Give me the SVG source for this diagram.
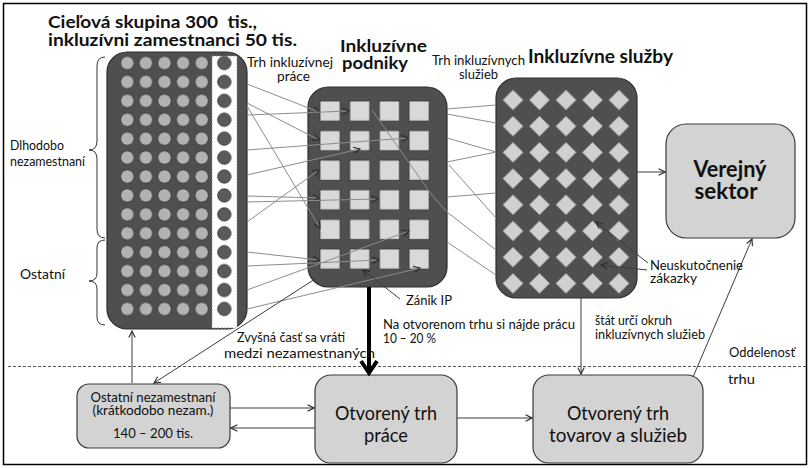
<svg xmlns="http://www.w3.org/2000/svg" width="810" height="468" viewBox="0 0 810 468">
<style>
  text { font-family: Lato, "Open Sans", "Liberation Sans", sans-serif; fill: #111; }
  .b { font-weight: bold; }
  .s { font-size: 12.5px; }
  .big { font-size: 19px; }
  .blk { fill: #4f4f4f; stroke: #2e2e2e; stroke-width: 1.2; }
  .box { fill: #d3d3d3; stroke: #3a3a3a; stroke-width: 1.2; }
  .g { stroke: #8c8c8c; stroke-width: 1; fill: none; }
  .ga { stroke: #8c8c8c; stroke-width: 1; fill: none; marker-end: url(#ah); }
  .c { stroke: #3c3c3c; stroke-width: 1; fill: none; marker-end: url(#ah); }
</style>
<defs>
  <marker id="ah" viewBox="0 0 10 10" refX="9" refY="5" markerWidth="8" markerHeight="8" orient="auto" markerUnits="userSpaceOnUse">
    <path d="M1,1 L9,5 L1,9" fill="none" stroke="#2a2a2a" stroke-width="1.4"/>
  </marker>
  <pattern id="pl" patternUnits="userSpaceOnUse" x="118" y="53.54" width="18.6" height="18.92">
    <circle cx="9.3" cy="9.46" r="6.7" fill="#b2b2b2" stroke="#2e2e2e" stroke-width="0.8"/>
  </pattern>
  <pattern id="pd" patternUnits="userSpaceOnUse" x="215" y="53.54" width="18.6" height="18.92">
    <circle cx="9.3" cy="9.46" r="6.7" fill="#5a5a5a" stroke="#2e2e2e" stroke-width="0.8"/>
  </pattern>
  <pattern id="ps" patternUnits="userSpaceOnUse" x="319" y="100" width="29.7" height="29.6">
    <rect x="1" y="1" width="20" height="20" fill="#d9d9d9" stroke="#333" stroke-width="0.8"/>
  </pattern>
  <pattern id="pdm" patternUnits="userSpaceOnUse" x="499.75" y="86.9" width="26.5" height="26.2">
    <path d="M13.25,2.6 L23.75,13.1 L13.25,23.6 L2.75,13.1 Z" fill="#d0d0d0" stroke="#3a3a3a" stroke-width="0.6"/>
  </pattern>
</defs>

<rect x="3.5" y="3.5" width="803" height="461" fill="#fff" stroke="#000" stroke-width="1.5"/>

<!-- dashed separation line -->
<line x1="8" y1="366.5" x2="806" y2="366.5" stroke="#555" stroke-width="1" stroke-dasharray="3,2"/>

<!-- title -->
<g id="title">
  <text class="b" font-size="17.5"><tspan x="48" y="28" textLength="209" lengthAdjust="spacingAndGlyphs">Cieľová skupina 300&#160; tis.,</tspan><tspan x="48" y="46" textLength="249" lengthAdjust="spacingAndGlyphs">inkluzívni zamestnanci 50 tis.</tspan></text>
</g>

<!-- left target group block -->
<g id="cielova-skupina">
  <rect class="blk" x="107" y="52" width="140" height="277" rx="20"/>
  <rect x="118" y="53.54" width="93" height="264.9" fill="url(#pl)"/>
  <rect x="212" y="56" width="25" height="272" fill="#fff" stroke="#888" stroke-width="0.8" stroke-dasharray="2,1.5"/>
  <rect x="215" y="53.54" width="18.6" height="264.9" fill="url(#pd)"/>
</g>

<!-- brackets -->
<g id="brackets" fill="none" stroke="#333" stroke-width="1">
  <path d="M105,57 Q97,57 97,66 L97,141 Q97,150 89,150 Q97,150 97,159 L97,229 Q97,238 105,238"/>
  <path d="M105,240 Q97,240 97,248 L97,273 Q97,281 89,281 Q97,281 97,289 L97,317 Q97,325 105,325"/>
</g>
<g id="lbl-dlhodobo">
  <text class="s"><tspan x="10" y="150" textLength="54" lengthAdjust="spacingAndGlyphs">Dlhodobo</tspan><tspan x="10" y="166" textLength="75" lengthAdjust="spacingAndGlyphs">nezamestnaní</tspan></text>
</g>
<g id="lbl-ostatni"><text class="s" x="20" y="279" textLength="45" lengthAdjust="spacingAndGlyphs">Ostatní</text></g>

<!-- middle block -->
<g id="inkluzivne-podniky">
  <rect class="blk" x="308" y="87" width="139" height="200" rx="20"/>
  <rect x="319" y="100" width="118.8" height="177.6" fill="url(#ps)"/>
  <text class="b" font-size="17.5"><tspan x="340" y="52" textLength="87" lengthAdjust="spacingAndGlyphs">Inkluzívne</tspan><tspan x="342" y="69" textLength="66" lengthAdjust="spacingAndGlyphs">podniky</tspan></text>
</g>

<!-- right block -->
<g id="inkluzivne-sluzby">
  <rect class="blk" x="496" y="78" width="141" height="220" rx="20"/>
  <rect x="499.75" y="86.9" width="132.5" height="209.6" fill="url(#pdm)"/>
  <text class="b" x="528" y="63" font-size="18" textLength="145" lengthAdjust="spacingAndGlyphs">Inkluzívne služby</text>
</g>

<!-- public sector -->
<g id="verejny-sektor">
  <rect class="box" x="666" y="124" width="129" height="114" rx="20"/>
  <text class="b" font-size="22" text-anchor="middle"><tspan x="730" y="177" textLength="73" lengthAdjust="spacingAndGlyphs">Verejný</tspan><tspan x="726" y="199" textLength="63" lengthAdjust="spacingAndGlyphs">sektor</tspan></text>
</g>

<!-- bottom boxes -->
<g id="ostatni-nezamestnani">
  <rect class="box" x="77" y="384" width="153" height="64" rx="12"/>
  <text class="s" text-anchor="middle"><tspan x="153" y="402" textLength="125" lengthAdjust="spacingAndGlyphs">Ostatní nezamestnaní</tspan><tspan x="153" y="415" textLength="121" lengthAdjust="spacingAndGlyphs">(krátkodobo nezam.)</tspan><tspan x="153" y="438" textLength="80" lengthAdjust="spacingAndGlyphs">140 – 200 tis.</tspan></text>
</g>
<g id="otvoreny-trh-prace">
  <rect class="box" x="315" y="375" width="142" height="88" rx="16"/>
  <text class="big" text-anchor="middle"><tspan x="386" y="420" textLength="102" lengthAdjust="spacingAndGlyphs">Otvorený trh</tspan><tspan x="386" y="442" textLength="44" lengthAdjust="spacingAndGlyphs">práce</tspan></text>
</g>
<g id="otvoreny-trh-tovarov">
  <rect class="box" x="533" y="375" width="170" height="88" rx="16"/>
  <text class="big" text-anchor="middle"><tspan x="618" y="420" textLength="102" lengthAdjust="spacingAndGlyphs">Otvorený trh</tspan><tspan x="618" y="442" textLength="138" lengthAdjust="spacingAndGlyphs">tovarov a služieb</tspan></text>
</g>

<!-- connectors -->
<g id="connectors">
  <!-- left to middle -->
  <line class="ga" x1="247" y1="84" x2="319" y2="112"/>
  <line class="ga" x1="247" y1="115" x2="349" y2="111"/>
  <line class="ga" x1="247" y1="103" x2="319" y2="140"/>
  <line class="ga" x1="247" y1="106" x2="320" y2="228"/>
  <line class="ga" x1="247" y1="150" x2="408" y2="138"/>
  <line class="ga" x1="247" y1="175" x2="360" y2="149"/>
  <line class="ga" x1="247" y1="222" x2="319" y2="170"/>
  <line class="ga" x1="247" y1="196" x2="319" y2="198"/>
  <line class="ga" x1="247" y1="202" x2="378" y2="199"/>
  <line class="ga" x1="247" y1="290" x2="409" y2="231"/>
  <line class="ga" x1="247" y1="252" x2="319" y2="260"/>
  <line class="ga" x1="247" y1="266" x2="379" y2="260"/>
  <line class="ga" x1="247" y1="309" x2="420" y2="268"/>
  <!-- middle to right -->
  <line class="g" x1="447" y1="109" x2="496" y2="105"/>
  <line class="g" x1="447" y1="114" x2="496" y2="123"/>
  <line class="g" x1="447" y1="138" x2="496" y2="152"/>
  <line class="g" x1="447" y1="162" x2="496" y2="152"/>
  <line class="g" x1="449" y1="165" x2="496" y2="218"/>
  <polyline class="g" points="372,110 431,194 447,212 496,250"/>
  <line class="g" x1="447" y1="197" x2="496" y2="193"/>
  <line class="g" x1="447" y1="242" x2="496" y2="275"/>
  <!-- others -->
  <line class="c" x1="315" y1="279" x2="154" y2="383"/>
  <line class="c" x1="132" y1="383" x2="132" y2="331"/>
  <line class="c" x1="230" y1="408" x2="314" y2="408"/>
  <line class="c" x1="315" y1="428" x2="231" y2="428"/>
  <line class="c" x1="457" y1="418" x2="532" y2="418"/>
  <line class="c" x1="581" y1="298" x2="581" y2="374"/>
  <line class="c" x1="693" y1="377" x2="752" y2="239"/>
  <line class="c" x1="637" y1="172" x2="665" y2="172"/>
  <line class="c" x1="400" y1="299" x2="363" y2="270"/>
  <line class="c" x1="648" y1="263" x2="596" y2="222"/>
  <line class="c" x1="647" y1="270" x2="601" y2="265"/>
  <line x1="369" y1="287" x2="369" y2="372" stroke="#000" stroke-width="4"/>
  <polyline points="361,361 369,373 377,361" fill="none" stroke="#000" stroke-width="4" stroke-linejoin="miter"/>
</g>

<!-- labels -->
<g id="labels">
  <text class="s"><tspan x="247" y="67" textLength="86" lengthAdjust="spacingAndGlyphs">Trh inkluzívnej</tspan><tspan x="277" y="81" textLength="33" lengthAdjust="spacingAndGlyphs">práce</tspan></text>
  <text class="s"><tspan x="432" y="65" textLength="93" lengthAdjust="spacingAndGlyphs">Trh inkluzívnych</tspan><tspan x="459" y="79" textLength="39" lengthAdjust="spacingAndGlyphs">služieb</tspan></text>
  <text class="s" x="406" y="305" textLength="46" lengthAdjust="spacingAndGlyphs">Zánik IP</text>
  <text class="s"><tspan x="383" y="329" textLength="192" lengthAdjust="spacingAndGlyphs">Na otvorenom trhu si nájde prácu</tspan><tspan x="383" y="343" textLength="53" lengthAdjust="spacingAndGlyphs">10 – 20 %</tspan></text>
  <text class="s"><tspan x="237" y="342" textLength="108" lengthAdjust="spacingAndGlyphs">Zvyšná časť sa vráti</tspan><tspan x="224" y="358" textLength="151" lengthAdjust="spacingAndGlyphs">medzi nezamestnaných</tspan></text>
  <text class="s"><tspan x="595" y="325" textLength="77" lengthAdjust="spacingAndGlyphs">štát určí okruh</tspan><tspan x="595" y="339" textLength="110" lengthAdjust="spacingAndGlyphs">inkluzívnych služieb</tspan></text>
  <text class="s"><tspan x="650" y="270" textLength="93" lengthAdjust="spacingAndGlyphs">Neuskutočnenie</tspan><tspan x="650" y="283" textLength="47" lengthAdjust="spacingAndGlyphs">zákazky</tspan></text>
  <text class="s" x="729" y="357" textLength="66" lengthAdjust="spacingAndGlyphs">Oddelenosť</text>
  <text class="s" x="728" y="384" textLength="27" lengthAdjust="spacingAndGlyphs">trhu</text>
</g>
</svg>
